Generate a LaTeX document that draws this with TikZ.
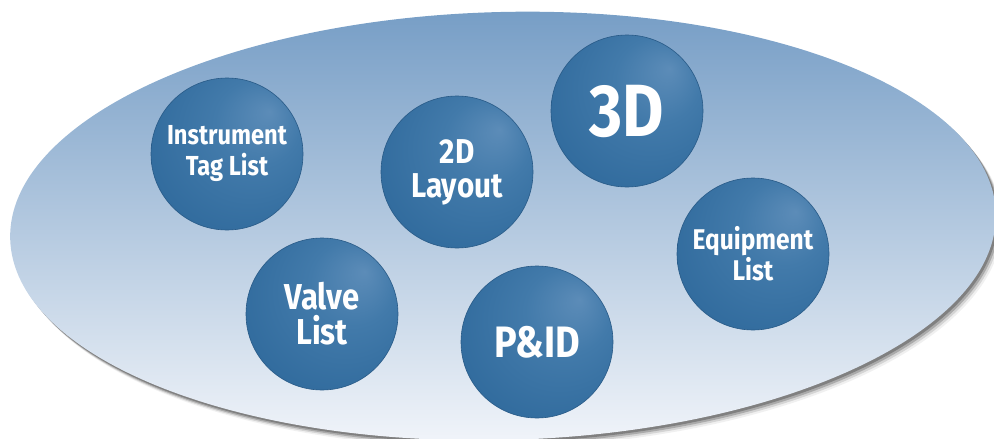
\documentclass[tikz,border=0pt]{standalone}
\usepackage{fontspec}
\newfontfamily\lbl{Fira Sans}[FakeStretch=0.86]
\definecolor{ellTop}{RGB}{119,158,198}
\definecolor{ellMid}{RGB}{146,175,211}
\definecolor{ellBot}{RGB}{242,245,250}
\definecolor{sphA}{RGB}{92,140,184}
\definecolor{sphB}{RGB}{66,122,170}
\definecolor{sphC}{RGB}{50,108,158}
\definecolor{sphD}{RGB}{36,88,134}
\definecolor{sphRim}{RGB}{40,90,135}
\pgfdeclareradialshading{sphereshade}{\pgfpoint{14bp}{14bp}}{color(0bp)=(sphA); color(14bp)=(sphB); color(32bp)=(sphC); color(46bp)=(sphC); color(50bp)=(sphD)}
\tikzset{
  ball/.style={circle, minimum size=152pt, inner sep=0pt, shading=sphereshade, draw=sphRim, line width=0.6pt, text=white, align=center},
  shadowlayer/.style={fill=black!75, draw=none}
}
\begin{document}
\begin{tikzpicture}[x=1pt,y=-1pt]
\useasboundingbox (0,0) rectangle (994,439);
\clip (0,0) rectangle (994,439);
% shadow of the big ellipse
\foreach \s/\o in {2/0.40,3.5/0.28,5/0.16,6.5/0.08}{
  \fill[shadowlayer, opacity=\o, rotate around={1.5:(503,226)}] (503+\s,226+1.2*\s) ellipse [x radius=493, y radius=214];
}
\shade[rotate around={1.5:(503,226)}, top color=ellTop, middle color=ellMid, bottom color=ellBot] (503,226) ellipse [x radius=493, y radius=214];
\node[ball, font=\lbl\bfseries\fontsize{27.5}{31}\selectfont] (itl) at (227,154) {Instrument\\Tag List};
\node[ball, font=\lbl\bfseries\fontsize{74}{74}\selectfont] (threed) at (627,111) {3D};
\node[ball, font=\lbl\bfseries\fontsize{34.5}{34}\selectfont] (twod) at (457,172) {2D\\Layout};
\node[ball, font=\lbl\bfseries\fontsize{28.5}{31}\selectfont] (eql) at (753,254) {Equipment\\List};
\node[ball, font=\lbl\bfseries\fontsize{36}{35}\selectfont] (vl) at (322,314) {Valve\\List};
\node[ball, font=\lbl\bfseries\fontsize{44}{44}\selectfont] (pid) at (537,342) {P\&ID};
\end{tikzpicture}
\end{document}
